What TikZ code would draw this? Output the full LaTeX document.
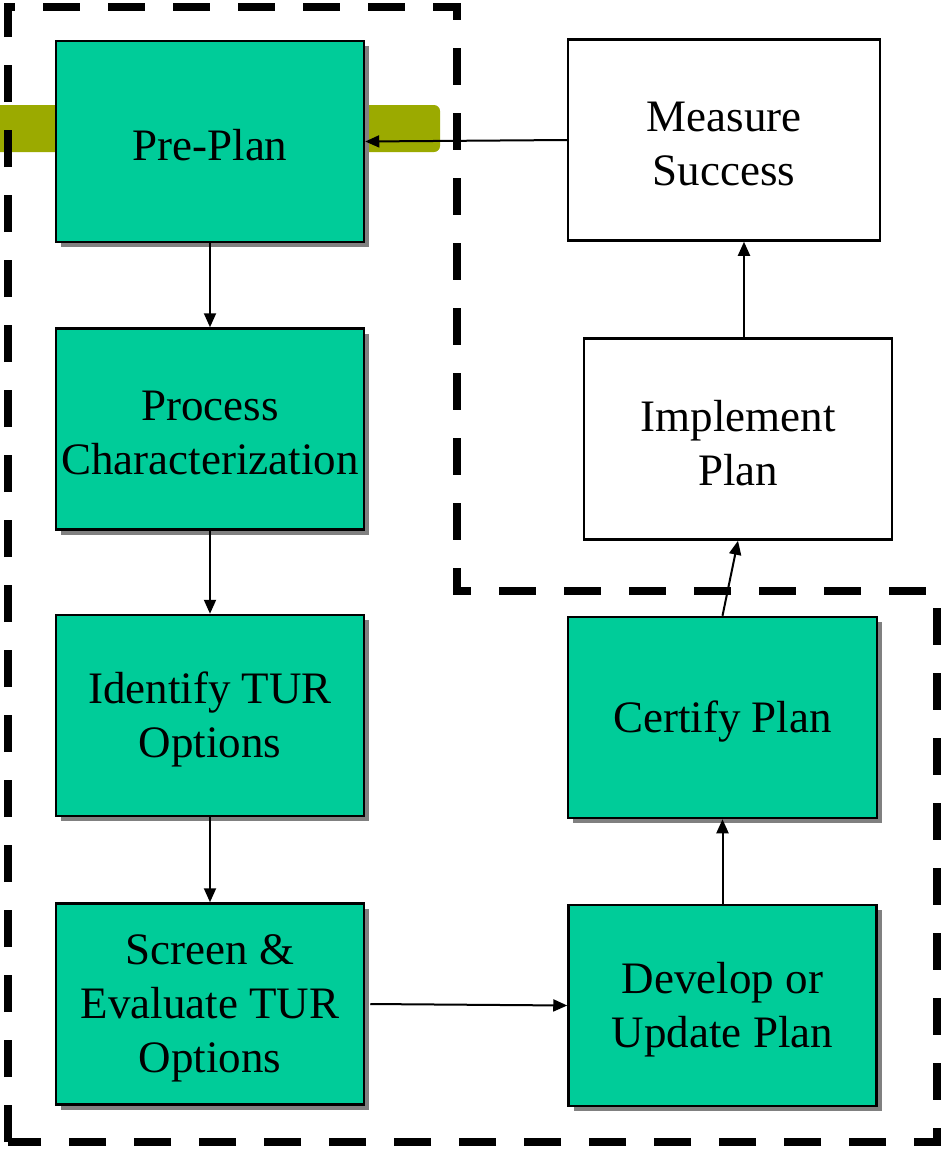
\documentclass[tikz,border=0pt]{standalone}
\usepackage{fontspec}
\setmainfont{Liberation Serif}
\usetikzlibrary{arrows.meta,shadows}
\definecolor{stepgreen}{HTML}{00CC99}
\definecolor{barolive}{HTML}{9BAA00}
\definecolor{shadowgray}{HTML}{808080}
\begin{document}
\begin{tikzpicture}[x=1pt,y=-1pt,
  steptext/.style={align=center, inner sep=0pt, yshift=-4pt,
    font=\fontsize{45}{54}\selectfont},
  stepbox/.style={draw=black, line width=2.5pt, fill=stepgreen,
    minimum width=308pt, minimum height=201pt, inner sep=0pt,
    drop shadow={shadow xshift=5pt, shadow yshift=-5pt, fill=shadowgray, opacity=1}},
  whitebox/.style={draw=black, line width=2.5pt, fill=white,
    minimum width=312pt, minimum height=201pt, inner sep=0pt},
  flow/.style={line width=2pt, -{Triangle[length=14pt,width=12pt]}},
  boundary/.style={line width=8pt, dash pattern=on 37pt off 28pt}]
\useasboundingbox (0,0) rectangle (942,1149);

% olive band behind the first step
\fill[barolive, rounded corners=6pt] (-20,105) rectangle (440,152);

% dashed boundary around the steps
\draw[boundary] (8,1142) -- (8,7) -- (457,7) -- (457,591) -- (937,591) -- (937,1142) -- cycle;

% left column
\node[stepbox, label={[steptext]center:Pre-Plan}] (pp) at (210,141.5) {};
\node[stepbox, label={[steptext]center:Process\\Characterization}] (pc) at (210,429) {};
\node[stepbox, label={[steptext]center:Identify TUR\\Options}] (it) at (210,715.5) {};
\node[stepbox, label={[steptext]center:Screen \&\\Evaluate TUR\\Options}] (se) at (210,1004) {};

% right column
\node[stepbox, label={[steptext]center:Develop or\\Update Plan}] (dv) at (722.5,1005.5) {};
\node[stepbox, minimum width=309pt, label={[steptext]center:Certify Plan}] (ct) at (722.5,717.5) {};
\node[whitebox, minimum width=308pt, label={[steptext]center:Implement\\Plan}] (ip) at (738,439) {};
\node[whitebox, label={[steptext]center:Measure\\Success}] (ms) at (724,140) {};

% connectors
\draw[flow] (pp) -- (pc);
\draw[flow] (pc) -- (it);
\draw[flow] (it) -- (se);
\draw[flow] ([xshift=5pt]se.east) -- (dv.west);
\draw[flow] (dv) -- (ct);
\draw[flow] (ct.north) -- (ip.south);
\draw[flow] ([xshift=6pt]ip.north) -- ([xshift=20pt]ms.south);
\draw[flow] (ms.west) -- (pp.east);
\end{tikzpicture}
\end{document}
